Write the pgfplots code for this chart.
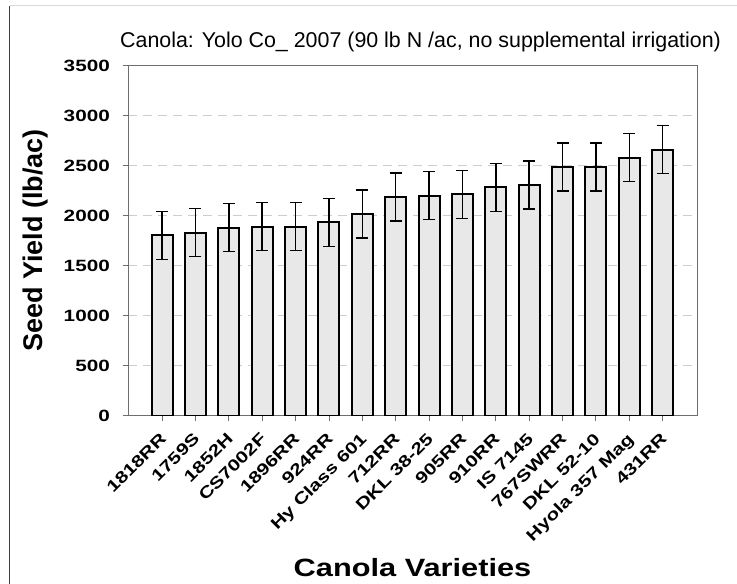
\documentclass[border=0pt]{standalone}
\usepackage{pgfplots}
\usepackage{pgfplotstable}
\pgfplotsset{compat=1.18}
\usepackage{fontspec}
\setmainfont{Liberation Sans}
\newfontfamily\widefont[FakeStretch=1.27]{Liberation Sans}
\newfontfamily\labelfont[FakeStretch=1.23]{Liberation Sans}

\definecolor{barfill}{RGB}{232,232,232}
\definecolor{axisgray}{RGB}{110,110,110}
\definecolor{gridgray}{RGB}{205,205,205}

% yield (lb/ac) and error
\pgfplotstableread{
x y e
0 1804 240
1 1830 240
2 1880 240
3 1890 240
4 1890 240
5 1933 240
6 2017 240
7 2187 240
8 2200 240
9 2213 240
10 2283 240
11 2307 240
12 2487 240
13 2487 240
14 2580 240
15 2660 240
}\yielddata

\begin{document}
\begin{tikzpicture}
\useasboundingbox (0,0) rectangle (737bp,584bp);
\fill[white] (0,0) rectangle (737bp,584bp);
\draw[gray!50!black, line width=1.3bp] (9.5bp,0) -- (9.5bp,578bp);
\draw[gray!30, line width=1bp] (9.5bp,578bp) -- (737bp,578bp);
\begin{axis}[
    at={(128bp,168.3bp)}, anchor=south west,
    scale only axis,
    width=569bp, height=350bp,
    xmin=-1.02, xmax=16.03,
    ymin=0, ymax=3500,
    ytick={0,500,...,3500},
    xtick={0,...,15},
    xticklabels={1818RR,1759S,1852H,CS7002F,1896RR,924RR,Hy Class 601,712RR,DKL 38-25,905RR,910RR,IS 7145,767SWRR,DKL 52-10,Hyola 357 Mag,431RR},
    scaled y ticks=false,
    /pgf/number format/assume math mode=true,
    /pgf/number format/1000 sep={},
    tick align=outside,
    major tick length=5bp,
    xtick pos=lower, ytick pos=left,
    tick style={axisgray, line width=0.8bp},
    axis line style={axisgray, line width=1bp},
    ymajorgrids,
    grid style={gridgray, line width=1bp, dash pattern=on 9bp off 6bp},
    yticklabel style={font=\widefont\bfseries\fontsize{16.3bp}{18bp}\selectfont, inner sep=0pt, xshift=-13bp},
    xticklabel style={font=\widefont\bfseries\fontsize{16.3bp}{18bp}\selectfont, inner sep=0pt, xshift=-3bp, yshift=-11bp, rotate=45, anchor=north east},
    title={Canola: Yolo Co\_ 2007 (90 lb N /ac, no supplemental irrigation)},
    title style={font=\fontsize{21.4bp}{24bp}\selectfont, anchor=base west, inner sep=0pt, yshift=0pt, at={(axis description cs:-0.0141,1.0343)}},
    ylabel={Seed Yield (lb/ac)},
    ylabel style={font=\bfseries\fontsize{27bp}{30bp}\selectfont, inner sep=0pt, anchor=base, at={(axis description cs:-0.1511,0.5)}},
    xlabel={Canola Varieties},
    xlabel style={font=\labelfont\bfseries\fontsize{25bp}{28bp}\selectfont, inner sep=0pt, anchor=base, at={(axis description cs:0.5,-0.46)}},
]
\addplot[
    ybar, bar width=21bp,
    fill=barfill, draw=black, line width=2bp,
    error bars/.cd,
        y dir=both, y explicit,
        error bar style={black, line width=1.5bp},
        error mark options={rotate=90, mark size=6bp, line width=1.5bp, black},
] table[x=x, y=y, y error=e] {\yielddata};
\end{axis}
\end{tikzpicture}
\end{document}
